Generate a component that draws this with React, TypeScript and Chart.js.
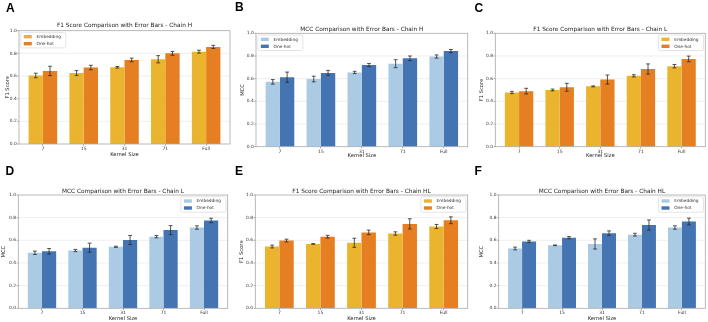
import React, { useEffect, useRef } from "react";
import { Chart, registerables } from "chart.js";

Chart.register(...registerables);

// ---------- data ----------
const categories = ["7", "15", "31", "71", "Full"];
const yTickValues = [0, 0.2, 0.4, 0.6, 0.8, 1.0];
const seriesNames = ["Embedding", "One-hot"];

// A: F1 - Chain H
const f1HEmb = [0.605, 0.626, 0.677, 0.748, 0.815];
const f1HEmbErr = [0.02, 0.022, 0.007, 0.032, 0.013];
const f1HHot = [0.645, 0.675, 0.742, 0.8, 0.857];
const f1HHotErr = [0.041, 0.02, 0.016, 0.017, 0.014];

// B: MCC - Chain H
const mccHEmb = [0.572, 0.597, 0.655, 0.732, 0.795];
const mccHEmbErr = [0.02, 0.025, 0.01, 0.035, 0.014];
const mccHHot = [0.613, 0.651, 0.72, 0.78, 0.843];
const mccHHotErr = [0.045, 0.022, 0.014, 0.02, 0.014];

// C: F1 - Chain L
const f1LEmb = [0.478, 0.5, 0.532, 0.625, 0.71];
const f1LEmbErr = [0.01, 0.008, 0.004, 0.01, 0.015];
const f1LHot = [0.49, 0.524, 0.592, 0.685, 0.774];
const f1LHotErr = [0.025, 0.035, 0.04, 0.045, 0.025];

// D: MCC - Chain L
const mccLEmb = [0.49, 0.51, 0.543, 0.632, 0.713];
const mccLEmbErr = [0.015, 0.01, 0.005, 0.01, 0.015];
const mccLHot = [0.503, 0.535, 0.603, 0.69, 0.775];
const mccLHotErr = [0.025, 0.04, 0.04, 0.04, 0.02];

// E: F1 - Chain HL
const f1HLEmb = [0.545, 0.568, 0.578, 0.66, 0.722];
const f1HLEmbErr = [0.012, 0.003, 0.04, 0.015, 0.018];
const f1HLHot = [0.598, 0.632, 0.67, 0.745, 0.777];
const f1HLHotErr = [0.012, 0.012, 0.02, 0.045, 0.03];

// F: MCC - Chain HL
const mccHLEmb = [0.528, 0.556, 0.568, 0.65, 0.713];
const mccHLEmbErr = [0.012, 0.003, 0.045, 0.012, 0.015];
const mccHLHot = [0.59, 0.623, 0.663, 0.735, 0.766];
const mccHLHotErr = [0.01, 0.01, 0.02, 0.045, 0.03];

// ---------- styles ----------
const FONT = "'DejaVu Sans', sans-serif";
const F1_EMB = "#EBB42E";
const F1_HOT = "#E67E22";
const MCC_EMB = "#AACBE3";
const MCC_HOT = "#4574B3";
const X_TITLE_SIZE = 5.2;
const X_TITLE_LH = X_TITLE_SIZE * 1.2;
const Y_TICK_LEN = 1.6;

type Spec = {
  letter: string;
  letterX: number;
  letterY: number;
  title: string;
  yLabel: string;
  emb: number[];
  embErr: number[];
  hot: number[];
  hotErr: number[];
  colors: [string, string];
  cell: { x: number; y: number; w: number; h: number };
  frame: { l: number; r: number; t: number; b: number };
  titleY: number;
  xTitleY: number;
  yTitleX: number;
  legendSide: "left" | "right";
};

const panels: Spec[] = [
  {
    letter: "A", letterX: 6, letterY: 1.5,
    title: "F1 Score Comparison with Error Bars - Chain H", yLabel: "F1 Score",
    emb: f1HEmb, embErr: f1HEmbErr, hot: f1HHot, hotErr: f1HHotErr, colors: [F1_EMB, F1_HOT],
    cell: { x: 0, y: 0, w: 236, h: 160 },
    frame: { l: 19, r: 230, t: 30.7, b: 144 },
    titleY: 25.3, xTitleY: 154.3, yTitleX: 7.3, legendSide: "left",
  },
  {
    letter: "B", letterX: 235, letterY: 0.5,
    title: "MCC Comparison with Error Bars - Chain H", yLabel: "MCC",
    emb: mccHEmb, embErr: mccHEmbErr, hot: mccHHot, hotErr: mccHHotErr, colors: [MCC_EMB, MCC_HOT],
    cell: { x: 236, y: 0, w: 236, h: 160 },
    frame: { l: 256, r: 467.7, t: 33.3, b: 146.7 },
    titleY: 29.3, xTitleY: 156, yTitleX: 242.7, legendSide: "left",
  },
  {
    letter: "C", letterX: 474.5, letterY: 1.8,
    title: "F1 Score Comparison with Error Bars - Chain L", yLabel: "F1 Score",
    emb: f1LEmb, embErr: f1LEmbErr, hot: f1LHot, hotErr: f1LHotErr, colors: [F1_EMB, F1_HOT],
    cell: { x: 472, y: 0, w: 236, h: 160 },
    frame: { l: 495.3, r: 705.3, t: 33.3, b: 146.7 },
    titleY: 29.3, xTitleY: 156, yTitleX: 482, legendSide: "right",
  },
  {
    letter: "D", letterX: 5.5, letterY: 165.2,
    title: "MCC Comparison with Error Bars - Chain L", yLabel: "MCC",
    emb: mccLEmb, embErr: mccLEmbErr, hot: mccLHot, hotErr: mccLHotErr, colors: [MCC_EMB, MCC_HOT],
    cell: { x: 0, y: 160, w: 236, h: 162 },
    frame: { l: 18.3, r: 227.7, t: 195, b: 308.3 },
    titleY: 191.7, xTitleY: 318.3, yTitleX: 3.3, legendSide: "right",
  },
  {
    letter: "E", letterX: 235, letterY: 165.2,
    title: "F1 Score Comparison with Error Bars - Chain HL", yLabel: "F1 Score",
    emb: f1HLEmb, embErr: f1HLEmbErr, hot: f1HLHot, hotErr: f1HLHotErr, colors: [F1_EMB, F1_HOT],
    cell: { x: 236, y: 160, w: 236, h: 162 },
    frame: { l: 255.3, r: 467.7, t: 195, b: 308.3 },
    titleY: 191, xTitleY: 318.3, yTitleX: 242, legendSide: "right",
  },
  {
    letter: "F", letterX: 474.5, letterY: 165.2,
    title: "MCC Comparison with Error Bars - Chain HL", yLabel: "MCC",
    emb: mccHLEmb, embErr: mccHLEmbErr, hot: mccHLHot, hotErr: mccHLHotErr, colors: [MCC_EMB, MCC_HOT],
    cell: { x: 472, y: 160, w: 236, h: 162 },
    frame: { l: 498.7, r: 705.3, t: 195, b: 308.3 },
    titleY: 191.7, xTitleY: 318.3, yTitleX: 481.3, legendSide: "right",
  },
];

const EXT_RATIO = 0.085; // matplotlib margin beyond category half-width

const decorPlugin = {
  id: "decor",
  beforeDatasetsDraw(chart: any) {
    const { ctx, chartArea: a } = chart;
    const y = chart.scales.y;
    const ext = ((a.right - a.left) / 5) * EXT_RATIO;
    ctx.save();
    ctx.strokeStyle = "#e4e4e4";
    ctx.lineWidth = 0.6;
    for (const t of yTickValues) {
      if (t <= 0 || t >= 1) continue;
      const py = y.getPixelForValue(t);
      ctx.beginPath();
      ctx.moveTo(a.left - ext, py);
      ctx.lineTo(a.right + ext, py);
      ctx.stroke();
    }
    ctx.restore();
  },
  afterDatasetsDraw(chart: any, _args: any, opts: any) {
    const { ctx, chartArea: a } = chart;
    const y = chart.scales.y;
    const ext = ((a.right - a.left) / 5) * EXT_RATIO;
    const L = a.left - ext;
    const R = a.right + ext;
    ctx.save();
    // error bars
    ctx.strokeStyle = "#2a2a2a";
    ctx.lineWidth = 0.8;
    chart.data.datasets.forEach((ds: any, di: number) => {
      const meta = chart.getDatasetMeta(di);
      meta.data.forEach((bar: any, i: number) => {
        const v = ds.data[i];
        const e = ds.errors[i];
        const y1 = y.getPixelForValue(v - e);
        const y2 = y.getPixelForValue(v + e);
        const x = bar.x;
        ctx.beginPath();
        ctx.moveTo(x, y1);
        ctx.lineTo(x, y2);
        ctx.moveTo(x - 1.9, y1);
        ctx.lineTo(x + 1.9, y1);
        ctx.moveTo(x - 1.9, y2);
        ctx.lineTo(x + 1.9, y2);
        ctx.stroke();
      });
    });
    // y tick marks
    ctx.strokeStyle = "#666";
    ctx.lineWidth = 0.6;
    for (const t of yTickValues) {
      const py = y.getPixelForValue(t);
      ctx.beginPath();
      ctx.moveTo(L - Y_TICK_LEN, py);
      ctx.lineTo(L, py);
      ctx.stroke();
    }
    // frame
    ctx.strokeStyle = "#a8a8a8";
    ctx.lineWidth = 0.8;
    ctx.strokeRect(L, a.top, R - L, a.bottom - a.top);
    // title
    ctx.fillStyle = "#222";
    ctx.font = `5.8px ${FONT}`;
    ctx.textAlign = "center";
    ctx.textBaseline = "middle";
    ctx.fillText(opts.title, (L + R) / 2, opts.titleY);
    // legend
    const bw = 45;
    const bh = 15.5;
    const x0 = opts.legendSide === "left" ? L + 1.8 : R - 1.8 - bw;
    const y0 = a.top + 1.7;
    ctx.fillStyle = "rgba(255,255,255,0.85)";
    ctx.strokeStyle = "#d4d4d4";
    ctx.lineWidth = 0.6;
    ctx.beginPath();
    if ((ctx as any).roundRect) (ctx as any).roundRect(x0, y0, bw, bh, 1.5);
    else ctx.rect(x0, y0, bw, bh);
    ctx.fill();
    ctx.stroke();
    ctx.font = `4.3px ${FONT}`;
    ctx.textAlign = "left";
    ctx.textBaseline = "middle";
    chart.data.datasets.forEach((ds: any, di: number) => {
      const cy = y0 + 4.3 + di * 7;
      ctx.fillStyle = ds.backgroundColor;
      ctx.fillRect(x0 + 3, cy - 1.7, 8, 3.4);
      ctx.fillStyle = "#333";
      ctx.fillText(ds.label, x0 + 15.7, cy + 0.2);
    });
    ctx.restore();
  },
};

function makeChart(canvas: HTMLCanvasElement, p: Spec) {
  const { cell, frame } = p;
  const s = (frame.r - frame.l) / (5 + 2 * EXT_RATIO);
  const ext = s * EXT_RATIO;
  const chartLeft = frame.l + ext;
  const chartRight = frame.r - ext;
  const yw = chartLeft - cell.x;
  const xh = p.xTitleY + X_TITLE_LH / 2 - frame.b;
  const padTop = frame.t - cell.y;
  const padRight = cell.x + cell.w - chartRight;
  const padBottom = Math.max(0, cell.y + cell.h - (frame.b + xh));
  const yTitlePad = Math.max(0, p.yTitleX - cell.x - X_TITLE_LH / 2);

  return new Chart(canvas, {
    type: "bar",
    data: {
      labels: categories,
      datasets: [
        {
          label: seriesNames[0],
          data: p.emb,
          errors: p.embErr,
          backgroundColor: p.colors[0],
          borderWidth: 0,
          categoryPercentage: 0.7,
          barPercentage: 1.0,
        } as any,
        {
          label: seriesNames[1],
          data: p.hot,
          errors: p.hotErr,
          backgroundColor: p.colors[1],
          borderWidth: 0,
          categoryPercentage: 0.7,
          barPercentage: 1.0,
        } as any,
      ],
    },
    options: {
      responsive: false,
      animation: false,
      events: [],
      layout: { padding: { left: 0, top: padTop, right: padRight, bottom: padBottom } },
      plugins: {
        legend: { display: false },
        title: { display: false },
        tooltip: { enabled: false },
        decor: {
          title: p.title,
          titleY: p.titleY - cell.y,
          legendSide: p.legendSide,
        },
      } as any,
      scales: {
        x: {
          type: "category",
          offset: true,
          border: { display: false },
          grid: {
            display: true,
            drawOnChartArea: false,
            drawTicks: true,
            tickLength: 1.6,
            offset: false,
            color: "#666",
            lineWidth: 0.6,
          },
          ticks: {
            font: { family: FONT, size: 4.5 },
            color: "#333",
            padding: 0.6,
            maxRotation: 0,
            autoSkip: false,
          },
          title: {
            display: true,
            text: "Kernel Size",
            font: { family: FONT, size: X_TITLE_SIZE },
            color: "#222",
            padding: 0,
          },
          afterFit: (sc: any) => {
            sc.height = xh;
          },
        },
        y: {
          min: 0,
          max: 1,
          border: { display: false },
          grid: { display: false, drawTicks: false },
          ticks: {
            stepSize: 0.2,
            font: { family: FONT, size: 4.4 },
            color: "#333",
            padding: ext + Y_TICK_LEN + 0.6,
            callback: (v: any) => Number(v).toFixed(1),
          },
          title: {
            display: true,
            text: p.yLabel,
            font: { family: FONT, size: X_TITLE_SIZE },
            color: "#222",
            padding: { top: yTitlePad, bottom: 0 },
          },
          afterFit: (sc: any) => {
            sc.width = yw;
          },
        },
      },
    } as any,
    plugins: [decorPlugin],
  });
}

export default function App() {
  const refs = useRef<(HTMLCanvasElement | null)[]>([]);

  useEffect(() => {
    const charts = panels.map((p, i) => makeChart(refs.current[i] as HTMLCanvasElement, p));
    return () => charts.forEach((c) => c.destroy());
  }, []);

  return (
    <div
      style={{
        position: "absolute",
        left: 0,
        top: 0,
        width: 708,
        height: 322,
        background: "#fff",
        overflow: "hidden",
      }}
    >
      {panels.map((p, i) => (
        <React.Fragment key={p.letter}>
          <canvas
            ref={(el) => {
              refs.current[i] = el;
            }}
            width={p.cell.w}
            height={p.cell.h}
            style={{
              position: "absolute",
              left: p.cell.x,
              top: p.cell.y,
              width: p.cell.w,
              height: p.cell.h,
            }}
          />
          <div
            style={{
              position: "absolute",
              left: p.letterX,
              top: p.letterY,
              font: "bold 12px 'Liberation Sans', Arial, sans-serif",
              lineHeight: "12px",
              color: "#000",
            }}
          >
            {p.letter}
          </div>
        </React.Fragment>
      ))}
    </div>
  );
}
